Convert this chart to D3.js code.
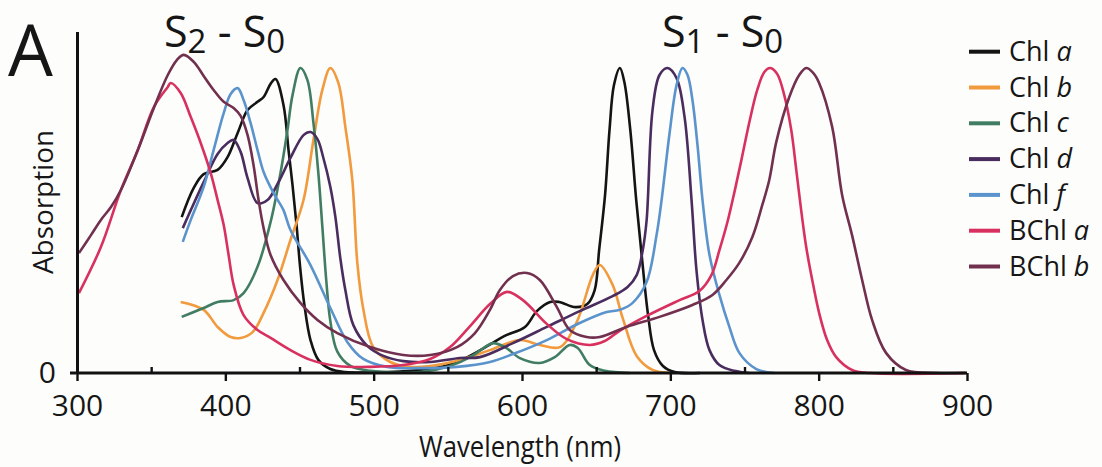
<!DOCTYPE html>
<html>
<head>
<meta charset="utf-8">
<script src="https://cdn.jsdelivr.net/npm/d3@7"></script>
<style>
  body { margin: 0; background: #fdfdfb; }
  svg text { font-family: "Open Sans", sans-serif; fill: #161616; }
</style>
</head>
<body>
<svg id="chart" width="1102" height="467"></svg>
<script>
'use strict';

// spectra: [wavelength nm, absorption % of Qy max]
const chlA = [[370.6,51.1],[378.7,60.7],[385.4,65.2],[394.8,66.6],[401.5,70.8],[408.3,78.7],[415,86.2],[421.7,88.9],[425.8,90.5],[430.5,94.8],[433.8,96.4],[439.2,87.9],[442.6,73.1],[445.3,61.6],[448,48.5],[450.6,33.8],[453.3,22.3],[457.4,10.8],[462.7,4.3],[470.8,1.3],[480.9,0.3],[500,0.2],[531,1.0],[548,2.3],[562,4.9],[578,9.2],[588,12.1],[602,15.1],[610,20.3],[619,23.3],[625,23.3],[636,21.6],[644,22.6],[649,27.2],[652,40.3],[656,58.4],[659,79.7],[662,94.4],[666,100],[669,95.4],[673,79.7],[677,56.7],[681,37],[685,19],[689,7.5],[695,2.3],[703,0.3],[720,0]];

const chlB = [[369.9,23.3],[385.4,20.7],[394.8,15.1],[403.6,11.8],[410.3,11.5],[418.4,13.4],[425.8,19.7],[435.2,30.5],[443.9,43.6],[452.7,56.7],[459.4,76.4],[465.4,92.8],[470.8,100],[476.2,95.1],[480.9,80.7],[485.6,63.3],[489,36],[493,21],[499.7,8.5],[511.2,3.6],[524.6,2.0],[538.1,2.3],[558.2,4.3],[578.4,7.5],[598.6,10.8],[612,9.2],[625.5,8.5],[636.9,16.7],[647.7,32.1],[652.4,35.4],[661.1,28.9],[667.9,18],[677.3,5.6],[688,1.0],[699.5,0]];

const chlC = [[370.6,18.4],[385.4,21.3],[394.8,23.3],[405.6,23.9],[412.3,26.2],[421.7,34.8],[430.5,49.5],[437.2,65.6],[441.9,79.7],[445.3,91.1],[450.6,100],[455.3,96.1],[459.4,82],[462.7,65.6],[465.4,48],[468.1,30],[470.8,17],[475.5,7],[484.3,2.3],[497.7,0.7],[531.3,0.3],[551.5,2.3],[565,5.2],[575,8.5],[580.4,9.8],[588.5,8.5],[598.6,4.9],[612,3.3],[622.1,5.2],[632.2,9.2],[637.6,8.2],[645.7,2.6],[655.8,0.7],[672.6,0]];

const chlD = [[371.3,47.5],[376.7,53.4],[385.4,62.6],[394.8,71.8],[401.5,75.4],[405.6,76.4],[410.3,72.5],[415,63.9],[421.7,55.7],[428.4,56.7],[435.2,62],[443.9,70.5],[452.7,78],[457.4,79],[462.1,76.7],[466.1,70.5],[470.8,61],[474.2,51.1],[477.5,37.7],[480.9,27.2],[486.3,15.7],[495.7,8.9],[506.5,5.6],[519.9,3.9],[538.1,3.6],[558.2,4.9],[571.7,5.2],[593.9,9.8],[616.7,15.1],[638.9,20.3],[661.1,25.2],[671.2,28.2],[677.3,32.1],[681.3,40],[684,50],[688,86.2],[692.7,97.7],[698.1,100],[704.2,96.7],[709.6,83.9],[714.3,56.7],[717.6,33.8],[721.7,17.4],[726.4,7.5],[733.1,2.6],[743.2,0.7],[753.3,0]];

const chlF = [[371.3,43],[376.7,50.2],[385.4,61],[392.1,73.1],[398.9,85.2],[403.6,91.5],[408.3,93.4],[412.3,89.5],[417,82],[421.7,73.1],[425.8,65.9],[432.5,59],[439.2,53.4],[443.9,46.9],[457.4,35.4],[470.8,21.3],[482.2,10.2],[493,4.6],[509.1,2.0],[531.3,1.6],[556.2,2.0],[578.4,3.6],[593.9,6.2],[616.7,10.8],[638.9,16.4],[657.1,20],[665.8,20.7],[674.6,23],[684,29.8],[690.7,45.2],[694.1,56.7],[699.5,78.7],[704.2,94.4],[708.2,100],[711.6,97.7],[714.9,89.5],[718.3,74.8],[721.7,56.7],[726.4,38.7],[733.1,25.6],[739.8,15.1],[746.5,6.6],[758,1.3],[770.1,0]];

const bchlA = [[301.3,26.2],[316.1,41.3],[329.6,60],[341,73.1],[351.8,87.2],[361.2,93.8],[363.2,95.1],[369.9,91.8],[376.7,83.9],[383.4,75.4],[390.1,65.6],[394.8,56.7],[398.9,48.5],[402.2,38.7],[405.6,28.9],[412.3,19],[421.7,14.1],[430.5,11.5],[443.9,7.5],[457.4,4.3],[475.5,2.3],[497.7,2.0],[519.9,2.6],[538.1,4.6],[551.5,8.5],[565,15.4],[578.4,22.6],[589.8,26.6],[600.6,23.9],[616.7,16.1],[630.2,11.1],[645.7,9.2],[655.8,10.5],[665.8,13.8],[684,18.7],[706.2,23.9],[719.6,26.9],[727.7,32.1],[733.1,40.3],[738.5,49.5],[743.2,59.3],[747.9,69.8],[753.3,82.3],[758.6,92.8],[763.4,98.7],[767.4,100],[772.1,98],[776.8,91.1],[781.5,79.7],[784.9,66.6],[788.2,53.4],[791.6,41.3],[796.3,28.9],[800.3,19.7],[805.7,10.8],[811.8,5.2],[822.5,1.0],[834,0],[899,0]];

const bchlB = [[301.3,39.3],[309.4,45.2],[316.1,50.2],[322.9,54.4],[329.6,60],[341,73.1],[351.8,86.9],[361.2,97.7],[367.3,102.6],[372,104.3],[378.7,102],[385.4,97.4],[392.1,92.8],[398.9,88.9],[405.6,86.9],[410.3,84.3],[415,78],[419,68.2],[422.4,56.7],[425.8,47.5],[430.5,38.7],[439.2,30.5],[450.6,23],[462.1,17.4],[475.5,13.1],[497.7,8.5],[519.9,5.9],[538.1,5.9],[556.2,8.5],[568.3,13.1],[578.4,20.7],[585.1,27.2],[593.9,31.8],[603.3,32.8],[612,30.5],[623.5,21.6],[632.2,14.1],[643.6,11.8],[652.4,11.8],[670.5,15.1],[692.7,18.4],[714.9,22.3],[728.4,25.6],[737.8,30.5],[746.5,36.1],[755.3,44.6],[762,55.1],[766.7,63.3],[771.4,75.7],[780.2,90.5],[786.9,97.7],[791.6,100],[796.3,98.4],[800.3,95.1],[809.1,80.7],[815.8,58.4],[822.5,45.2],[829.3,30.5],[836,17.4],[845.4,6.6],[858.8,1.0],[879,0],[899,0]];

const pigments = ["Chl", "Chl", "Chl", "Chl", "Chl", "BChl", "BChl"];
const variants = ["a", "b", "c", "d", "f", "a", "b"];
const spectra = [chlA, chlB, chlC, chlD, chlF, bchlA, bchlB];

const majorTicks = [300, 400, 500, 600, 700, 800, 900];
const minorTicks = [350, 450, 550, 650, 750, 850];

const colors = ["#141414", "#f19a3e", "#417d63", "#4a2c5e", "#5b93cd", "#d8315f", "#72304f"];

let svg = d3.select("#chart");

let x = d3.scaleLinear().domain([300, 900]).range([77, 967]);
let y = d3.scaleLinear().domain([0, 112]).range([373, 31.4]);

// curves
let line = d3.line()
    .x(d => x(d[0]))
    .y(d => y(d[1]))
    .curve(d3.curveCatmullRom.alpha(0.5));

svg.append("g").selectAll("path")
    .data(spectra)
    .join("path")
    .attr("d", line)
    .attr("fill", "none")
    .attr("stroke", (d, i) => colors[i])
    .attr("stroke-width", 2.6)
    .attr("stroke-linejoin", "round");

// x axis: labelled ticks below, small ticks above
let xAxis = svg.append("g")
    .attr("transform", "translate(0," + y(0) + ")")
    .call(d3.axisBottom(x).tickValues(majorTicks).tickFormat(d3.format("d"))
        .tickSize(8).tickSizeOuter(0).tickPadding(14));
xAxis.select(".domain").remove();
xAxis.selectAll(".tick line").attr("stroke", "#111").attr("stroke-width", 2.4);
xAxis.selectAll("text").style("font-size", "30px").attr("fill", "#161616");

let xMinor = svg.append("g")
    .attr("transform", "translate(0," + y(0) + ")")
    .call(d3.axisTop(x).tickValues(minorTicks).tickFormat("").tickSize(6).tickSizeOuter(0));
xMinor.select(".domain").remove();
xMinor.selectAll(".tick line").attr("stroke", "#111").attr("stroke-width", 2.4);

svg.append("line")
    .attr("x1", x(300) - 7).attr("x2", x(900))
    .attr("y1", y(0)).attr("y2", y(0))
    .attr("stroke", "#111").attr("stroke-width", 3);

// y axis, only the zero is labelled
let yAxis = svg.append("g")
    .attr("transform", "translate(" + x(300) + ",0)")
    .call(d3.axisLeft(y).tickValues([0]).tickSize(0).tickSizeOuter(0).tickPadding(21));
yAxis.select(".domain").attr("stroke", "#111").attr("stroke-width", 3);
yAxis.selectAll("text").style("font-size", "30px").attr("dy", "0.3em");

svg.append("text")
    .attr("x", (x(300) + x(900)) / 2 - 2)
    .attr("y", 457)
    .attr("text-anchor", "middle")
    .attr("textLength", 202)
    .attr("lengthAdjust", "spacingAndGlyphs")
    .style("font-size", "30px")
    .text("Wavelength (nm)");

svg.append("text")
    .attr("transform", "translate(53,202) rotate(-90)")
    .attr("text-anchor", "middle")
    .attr("textLength", 144)
    .attr("lengthAdjust", "spacingAndGlyphs")
    .style("font-size", "28px")
    .text("Absorption");

// panel letter
svg.append("text")
    .attr("x", 8).attr("y", 76)
    .style("font-size", "71px")
    .text("A");

// transition labels
function transition(x0, up) {
    let t = svg.append("text")
        .attr("x", x0).attr("y", 47)
        .style("font-size", "43px");
    t.append("tspan").text("S");
    t.append("tspan").attr("dy", 6).style("font-size", "33px").text(up);
    t.append("tspan").attr("dy", -6).text(" - S");
    t.append("tspan").attr("dy", 6).style("font-size", "33px").text("0");
}
transition(164, "2");
transition(662, "1");

// legend
let legend = svg.append("g").selectAll("g")
    .data(pigments)
    .join("g")
    .attr("transform", (d, i) => "translate(969," + (51.7 + i * 35.8) + ")");

legend.append("line")
    .attr("x1", 0).attr("x2", 31)
    .attr("stroke", (d, i) => colors[i])
    .attr("stroke-width", 4);

let lt = legend.append("text")
    .attr("x", 40).attr("y", 9)
    .style("font-size", "27px");
lt.append("tspan").text(d => d + " ");
lt.append("tspan").style("font-style", "italic").text((d, i) => variants[i]);
</script>
</body>
</html>
